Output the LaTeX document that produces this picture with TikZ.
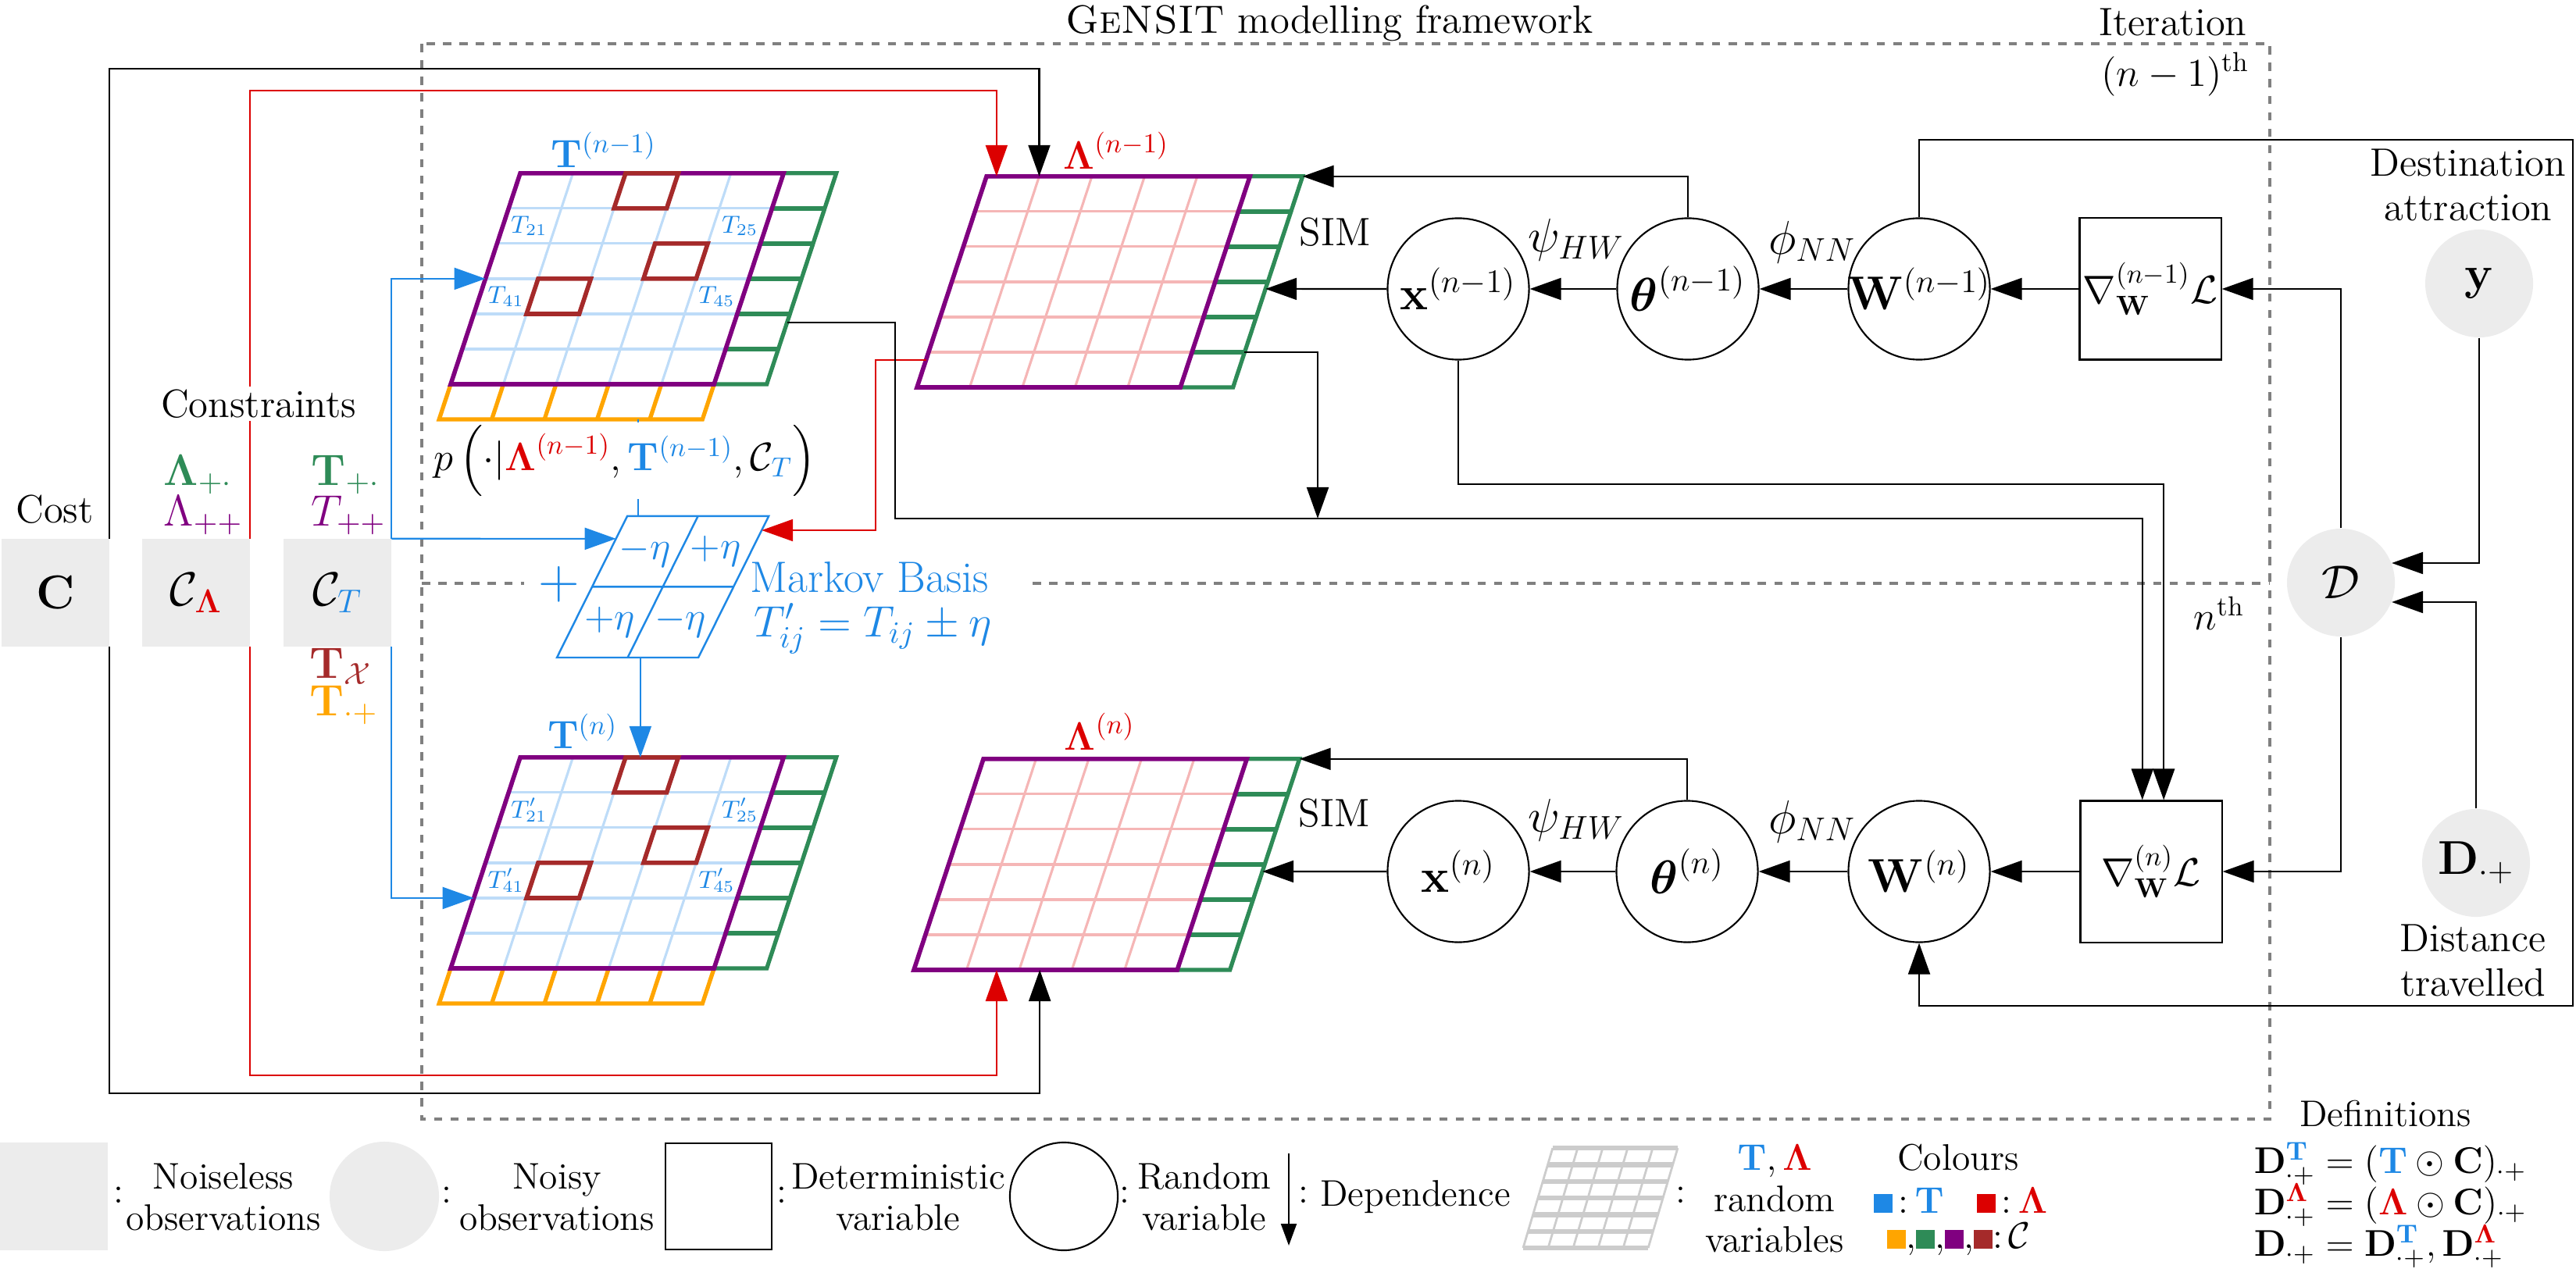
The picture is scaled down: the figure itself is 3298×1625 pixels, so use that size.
\documentclass[tikz,border=0pt]{standalone}
\usepackage{fix-cm}
\usepackage{amsmath,amssymb}
\usetikzlibrary{positioning,arrows.meta,calc}

\definecolor{tcol}{RGB}{30,136,229}
\definecolor{lcol}{RGB}{220,0,0}
\definecolor{sgreen}{RGB}{46,139,87}
\definecolor{mpurple}{RGB}{128,0,128}
\definecolor{morange}{RGB}{255,165,0}
\definecolor{mbrown}{RGB}{165,42,42}
\definecolor{tlight}{RGB}{190,220,248}
\definecolor{llight}{RGB}{245,182,182}

\tikzset{
  odaxes/.style={x={(0.674cm,0cm)}, y={(0.1483cm,0.45cm)}},
  mbaxes/.style={x={(0.905cm,0cm)}, y={(0.45cm,0.905cm)}},
  itframe/.style={gray, dashed, line width=1.3pt},
  dep/.style={line width=0.6pt, -{Triangle[length=4mm,width=2.8mm]}},
  obs/.style={rectangle, fill=gray!15, minimum size=1.37cm, inner sep=0pt, font=\LARGE},
  obsrv/.style={circle, fill=gray!15, minimum size=1.38cm, inner sep=0pt, font=\LARGE},
  rv/.style={circle, draw, line width=0.6pt, minimum size=1.81cm, inner sep=0pt, font=\LARGE},
  detv/.style={rectangle, draw, line width=0.6pt, minimum size=1.81cm, inner sep=0pt, font=\Large},
  txt/.style={font=\fontsize{14.4}{16}\selectfont, align=center},
  mth/.style={font=\fontsize{16}{19}\selectfont},
  cell/.style={text=tcol, font=\small, inner sep=0pt},
  legtxt/.style={font=\fontsize{13.5}{15}\selectfont, align=center},
  deftxt/.style={font=\fontsize{13.5}{15}\selectfont, anchor=west, inner sep=0pt},
}

% slanted OD matrix, green row sums, orange column sums if #2=1
\newcommand{\odmatrix}[2]{%
  \foreach \i in {1,...,4} \draw[#1, line width=0.9pt] (\i,0) -- (\i,6);
  \foreach \j in {1,...,5} \draw[#1, line width=0.9pt] (0,\j) -- (5,\j);
  \foreach \j in {1,...,5} \draw[sgreen, line width=1.5pt] (5,\j) -- (6,\j);
  \draw[sgreen, line width=1.5pt] (5,0) -- (6,0) -- (6,6) -- (5,6);
  \ifnum#2=1
    \foreach \i in {1,...,4} \draw[morange, line width=1.5pt] (\i,0) -- (\i,-1);
    \draw[morange, line width=1.5pt] (0,0) -- (0,-1) -- (5,-1) -- (5,0);
  \fi
  \draw[mpurple, line width=1.6pt] (0,0) -- (5,0) -- (5,6) -- (0,6) -- cycle;
}
% fixed cells
\newcommand{\mbcells}{%
  \foreach \i/\j in {2/5, 3/3, 1/2}
    \draw[mbrown, line width=1.6pt] (\i,\j) -- (\i+1,\j) -- (\i+1,\j+1) -- (\i,\j+1) -- cycle;
}
\newcommand{\sqbox}[1]{\textcolor{#1}{\rule{2.4mm}{2.4mm}}}

\begin{document}
\begin{tikzpicture}[x=0.01cm, y=-0.01cm]
\useasboundingbox (0,0) rectangle (3298,1625);

% Framework
\draw[itframe] (540,56) rectangle (2906,1433);
\draw[itframe] (540,747) -- (671,747);
\draw[itframe] (1322,747) -- (2906,747);
\node[txt] (title) at (1702,30) {\textsc{GeNSIT} modelling framework};
\node[txt] (iter) at (2782,28) {Iteration};
\node[txt] (iterprev) at (2785,95) {$(n-1)^{\text{th}}$};
\node[txt] (iternext) at (2841,785) {$n^{\text{th}}$};

% Observations
\node[obs] (cost) at (71,759) {$\mathbf{C}$};
\node[obs] (clam) at (251,759) {$\mathcal{C}_{\textcolor{lcol}{\boldsymbol{\Lambda}}}$};
\node[obs] (ct) at (432,759) {$\mathcal{C}_{\textcolor{tcol}{T}}$};
\node[obsrv] (y) at (3174,363) {$\mathbf{y}$};
\node[obsrv] (D) at (2997,746) {$\mathcal{D}$};
\node[obsrv] (dp) at (3170,1105) {$\mathbf{D}_{\cdot+}$};
\node[txt] (ylbl) at (3160,237) {Destination\\attraction};
\node[txt] (dplbl) at (3166,1230) {Distance\\travelled};

% Matrices
\begin{scope}[shift={(577,492)}, odaxes]
  \odmatrix{tlight}{1}
  \mbcells
  \node[cell] (t21) at (0.5,4.5) {$T_{21}$};
  \node[cell] (t25) at (4.5,4.5) {$T_{25}$};
  \node[cell] (t41) at (0.5,2.5) {$T_{41}$};
  \node[cell] (t45) at (4.5,2.5) {$T_{45}$};
  \coordinate (tprev-in) at (0,3);
  \coordinate (tprev-out) at (6,1.75);
  \coordinate (tprev-sum) at (3.78,-1);
\end{scope}
\begin{scope}[shift={(577,1240)}, odaxes]
  \odmatrix{tlight}{1}
  \mbcells
  \node[cell] (tn21) at (0.5,4.5) {$T'_{21}$};
  \node[cell] (tn25) at (4.5,4.5) {$T'_{25}$};
  \node[cell] (tn41) at (0.5,2.5) {$T'_{41}$};
  \node[cell] (tn45) at (4.5,2.5) {$T'_{45}$};
  \coordinate (tnext-tl) at (0,6);
  \coordinate (tnext-in) at (0,2);
\end{scope}
\begin{scope}[shift={(1174,496)}, odaxes]
  \odmatrix{llight}{0}
  \coordinate (lprev-ne) at (6,6);
  \coordinate (lprev-in) at (6,2.8);
  \coordinate (lprev-out) at (6,1);
  \coordinate (lprev-w) at (0,0.78);
  \coordinate (lprev-red) at (0.19,6);
  \coordinate (lprev-blk) at (1,6);
\end{scope}
\begin{scope}[shift={(1170,1242)}, odaxes]
  \odmatrix{llight}{0}
  \coordinate (lnext-ne) at (6,6);
  \coordinate (lnext-in) at (6,2.8);
  \coordinate (lnext-red) at (1.57,0);
  \coordinate (lnext-blk) at (2.39,0);
\end{scope}
\node[font=\Large, text=tcol] (tprev) at (773,192) {$\mathbf{T}^{(n-1)}$};
\node[font=\Large, text=tcol] (tnext) at (746,936) {$\mathbf{T}^{(n)}$};
\node[font=\Large, text=lcol] (lprev) at (1429,193) {$\boldsymbol{\Lambda}^{(n-1)}$};
\node[font=\Large, text=lcol] (lnext) at (1408,937) {$\boldsymbol{\Lambda}^{(n)}$};

% Markov basis
\begin{scope}[shift={(713,842)}, mbaxes, tcol, line width=0.7pt]
  \draw (0,0) -- (2,0) -- (2,2) -- (0,2) -- cycle;
  \draw (1,0) -- (1,2) (0,1) -- (2,1);
  \node[txt] (mb1) at (0.5,1.5) {$-\eta$};
  \node[txt] (mb2) at (1.5,1.5) {$+\eta$};
  \node[txt] (mb3) at (0.5,0.5) {$+\eta$};
  \node[txt] (mb4) at (1.5,0.5) {$-\eta$};
  \coordinate (mb-tl) at (0,2);
  \coordinate (mb-in) at (0,1.68);
  \coordinate (mb-red) at (2,1.8);
  \coordinate (mb-bot) at (1.18,0);
\end{scope}
\node[font=\huge, text=tcol] (plus) at (716,748) {$+$};
\node[mth, text=tcol, anchor=west, inner sep=0pt] (mbname) at (960,739) {Markov Basis};
\node[mth, text=tcol, anchor=west, inner sep=0pt] (mbrule) at (965,805) {$T'_{ij} = T_{ij} \pm \eta$};

% Random variables
\node[rv] (x1) at (1867,370) {\makebox[0pt]{$\mathbf{x}^{(n-1)}$}};
\node[rv] (th1) at (2161,370) {\makebox[0pt]{$\boldsymbol{\theta}^{(n-1)}$}};
\node[rv] (w1) at (2457,370) {\makebox[0pt]{$\mathbf{W}^{(n-1)}$}};
\node[detv] (g1) at (2753,370) {\makebox[0pt]{$\nabla^{(n-1)}_{\mathbf{W}}\mathcal{L}$}};
\node[rv] (x2) at (1867,1116) {\makebox[0pt]{$\mathbf{x}^{(n)}$}};
\node[rv] (th2) at (2160,1116) {\makebox[0pt]{$\boldsymbol{\theta}^{(n)}$}};
\node[rv] (w2) at (2457,1116) {\makebox[0pt]{$\mathbf{W}^{(n)}$}};
\node[detv] (g2) at (2754,1116) {\makebox[0pt]{$\nabla^{(n)}_{\mathbf{W}}\mathcal{L}$}};
\node[txt] (sim1) at (1709,297) {SIM};
\node[font=\LARGE] (psi1) at (2018,307) {$\psi_{HW}$};
\node[font=\LARGE] (phi1) at (2320,310) {$\phi_{NN}$};
\node[txt] (sim2) at (1708,1041) {SIM};
\node[font=\LARGE] (psi2) at (2018,1050) {$\psi_{HW}$};
\node[font=\LARGE] (phi2) at (2320,1052) {$\phi_{NN}$};

% Dependencies
\draw[dep] (cost.north east) -- ++(0,-602) -| (lprev-blk);
\draw[dep, lcol] (clam.north east) -- ++(0,-574) -| (lprev-red);
\draw[dep] (cost.south east) -- ++(0,572) -| (lnext-blk);
\draw[dep, lcol] (clam.south east) -- ++(0,549) -| (lnext-red);
\draw[dep, tcol] (ct.north east) |- (tprev-in);
\draw[dep, tcol] (ct.north east) -- (mb-in);
\draw[dep, tcol] (ct.south east) |- (tnext-in);
\draw[tcol, line width=0.6pt] (tprev-sum) -- (tprev-sum |- mb-tl);
\draw[dep, tcol] (mb-bot) -- (mb-bot |- tnext-tl);
\draw[dep, lcol] (lprev-w) -- ++(-65,0) |- (mb-red);
\coordinate (tbend) at (1146,664);
\coordinate (lbend) at (1687,664);
\draw[dep] (tprev-out) -| (tbend) -| (g2.97);
\draw[dep] (lprev-out) -| (lbend);
\draw[dep] (x1.south) -- ++(0,158) -| (g2.80);
\draw[dep] (x1.west) -- (lprev-in);
\draw[dep] (th1.west) -- (x1.east);
\draw[dep] (w1.west) -- (th1.east);
\draw[dep] (g1.west) -- (w1.east);
\draw[dep] (th1.north) |- (lprev-ne);
\draw[dep] (x2.west) -- (lnext-in);
\draw[dep] (th2.west) -- (x2.east);
\draw[dep] (w2.west) -- (th2.east);
\draw[dep] (g2.west) -- (w2.east);
\draw[dep] (th2.north) |- (lnext-ne);
\draw[dep] (D.north) |- (g1.east);
\draw[dep] (D.south) |- (g2.east);
\draw[dep] (y.south) |- (D.21);
\draw[dep] (dp.north) |- (D.-21);
\coordinate (loop-a) at (3294,179);
\coordinate (loop-b) at (3294,1288);
\draw[dep] (w1.north) |- (loop-a) -- (loop-b) -| (w2.south);

% Labels over the connectors
\node[txt] (costlbl) at (70,652) {Cost};
\node[txt, fill=white, inner sep=1pt] (conlbl) at (331,517) {Constraints};
\node[mth, text=sgreen, anchor=west, inner sep=0pt] (lamr) at (209,608) {$\boldsymbol{\Lambda}_{+\cdot}$};
\node[mth, text=mpurple, anchor=west, inner sep=0pt] (lamt) at (209,660) {$\Lambda_{++}$};
\node[mth, text=sgreen, anchor=west, inner sep=0pt] (tr) at (398,608) {$\mathbf{T}_{+\cdot}$};
\node[mth, text=mpurple, anchor=west, inner sep=0pt] (tt) at (398,660) {$T_{++}$};
\node[mth, text=mbrown, anchor=west, inner sep=0pt] (tx) at (396,853) {$\mathbf{T}_{\mathcal{X}}$};
\node[mth, text=morange, anchor=west, inner sep=0pt] (tc) at (396,903) {$\mathbf{T}_{\cdot+}$};
\node[txt, fill=white, inner sep=1pt] (prop) at (800,590) {$p\left(\cdot|\textcolor{lcol}{\boldsymbol{\Lambda}^{(n-1)}},\textcolor{tcol}{\mathbf{T}^{(n-1)}},\mathcal{C}_{\textcolor{tcol}{T}}\right)$};

% Legend
\node[obs] (lg-noiseless) at (69,1532) {};
\node[legtxt] (lg-c1) at (152,1530) {:};
\node[legtxt] (lg-t1) at (286,1533) {Noiseless\\observations};
\node[obsrv, minimum size=1.4cm] (lg-noisy) at (492,1532) {};
\node[legtxt] (lg-c2) at (572,1530) {:};
\node[legtxt] (lg-t2) at (713,1533) {Noisy\\observations};
\node[draw, line width=0.6pt, minimum size=1.36cm] (lg-det) at (920,1532) {};
\node[legtxt] (lg-c3) at (1001,1530) {:};
\node[legtxt] (lg-t3) at (1150,1533) {Deterministic\\variable};
\node[draw, line width=0.6pt, circle, minimum size=1.38cm] (lg-rv) at (1362,1532) {};
\node[legtxt] (lg-c4) at (1440,1530) {:};
\node[legtxt] (lg-t4) at (1542,1533) {Random\\variable};
\coordinate (lg-dep-a) at (1650,1477);
\coordinate (lg-dep-b) at (1650,1595);
\draw[line width=0.6pt, -{Triangle[length=2.8mm,width=2mm]}] (lg-dep-a) -- (lg-dep-b);
\node[legtxt] (lg-c5) at (1669,1530) {:};
\node[legtxt] (lg-t5) at (1812,1533) {Dependence};
\begin{scope}[shift={(1950,1598)}, x={(0.32cm,0cm)}, y={(0.063cm,0.213cm)}, gray!40]
  \foreach \i in {0,...,5} \draw[line width=0.8pt] (\i,0) -- (\i,6);
  \foreach \j in {0,...,6} \draw[line width=1.8pt] (0,\j) -- (5,\j);
\end{scope}
\node[legtxt] (lg-c6) at (2152,1530) {:};
\node[legtxt] (lg-t6) at (2272,1535) {$\textcolor{tcol}{\mathbf{T}},\textcolor{lcol}{\boldsymbol{\Lambda}}$\\random\\variables};
\node[legtxt] (lg-col) at (2507,1482) {Colours};
\node[legtxt] (lg-col1) at (2510,1537) {\sqbox{tcol}\,:\,$\textcolor{tcol}{\mathbf{T}}$\hspace{12pt}\sqbox{lcol}\,:\,$\textcolor{lcol}{\boldsymbol{\Lambda}}$};
\node[legtxt] (lg-col2) at (2508,1587) {\sqbox{morange},\sqbox{sgreen},\sqbox{mpurple},\sqbox{mbrown}:\,$\mathcal{C}$};
\node[legtxt] (lg-def) at (3054,1426) {Definitions};
\node[deftxt] (lg-def1) at (2885,1490) {$\mathbf{D}^{\textcolor{tcol}{\mathbf{T}}}_{\cdot+} = (\textcolor{tcol}{\mathbf{T}}\odot\mathbf{C})_{\cdot+}$};
\node[deftxt] (lg-def2) at (2885,1543) {$\mathbf{D}^{\textcolor{lcol}{\boldsymbol{\Lambda}}}_{\cdot+} = (\textcolor{lcol}{\boldsymbol{\Lambda}}\odot\mathbf{C})_{\cdot+}$};
\node[deftxt] (lg-def3) at (2885,1596) {$\mathbf{D}_{\cdot+} = \mathbf{D}^{\textcolor{tcol}{\mathbf{T}}}_{\cdot+},\mathbf{D}^{\textcolor{lcol}{\boldsymbol{\Lambda}}}_{\cdot+}$};
\end{tikzpicture}
\end{document}
